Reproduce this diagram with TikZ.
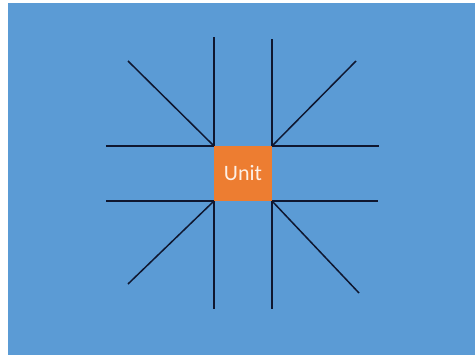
\documentclass[tikz,border=0pt]{standalone}
\usepackage{fontspec}
\setmainfont{Carlito}
\definecolor{bgblue}{HTML}{5B9BD5}
\definecolor{unitorange}{HTML}{ED7D31}
\definecolor{linenavy}{HTML}{0F1730}
\definecolor{unittext}{HTML}{FDF0E6}
\begin{document}
\begin{tikzpicture}[x=1pt,y=-1pt,
  spoke/.style={draw=linenavy,line width=1.5pt},
  unitbox/.style={fill=unitorange,draw=none,minimum width=58pt,minimum height=55pt,inner sep=0pt,text=unittext,font=\fontsize{22}{24}\selectfont}]
\useasboundingbox (0,0) rectangle (475,356);
\fill[white] (0,0) rectangle (475,356);
\fill[bgblue] (8,3) rectangle (475,355);
\node[unitbox] (unit) at (243,173.5) {Unit};
\coordinate (tl) at (128,61);
\coordinate (tr) at (356,61);
\coordinate (bl) at (128,284);
\coordinate (br) at (359,293);
\coordinate (vlt) at (unit.north west |- 0,37);
\coordinate (vlb) at (unit.south west |- 0,309);
\coordinate (vrt) at (unit.north east |- 0,39);
\coordinate (vrb) at (unit.south east |- 0,309);
\coordinate (hlt) at (106,0 |- unit.north west);
\coordinate (hlb) at (106,0 |- unit.south west);
\coordinate (hrt) at (379,0 |- unit.north east);
\coordinate (hrb) at (378,0 |- unit.south east);
\draw[spoke] (unit.north west) -- (tl);
\draw[spoke] (unit.north east) -- (tr);
\draw[spoke] (unit.south west) -- (bl);
\draw[spoke] (unit.south east) -- (br);
\draw[spoke] (unit.north west) -- (vlt);
\draw[spoke] (unit.south west) -- (vlb);
\draw[spoke] (unit.north east) -- (vrt);
\draw[spoke] (unit.south east) -- (vrb);
\draw[spoke] (unit.north west) -- (hlt);
\draw[spoke] (unit.south west) -- (hlb);
\draw[spoke] (unit.north east) -- (hrt);
\draw[spoke] (unit.south east) -- (hrb);
\end{tikzpicture}
\end{document}
